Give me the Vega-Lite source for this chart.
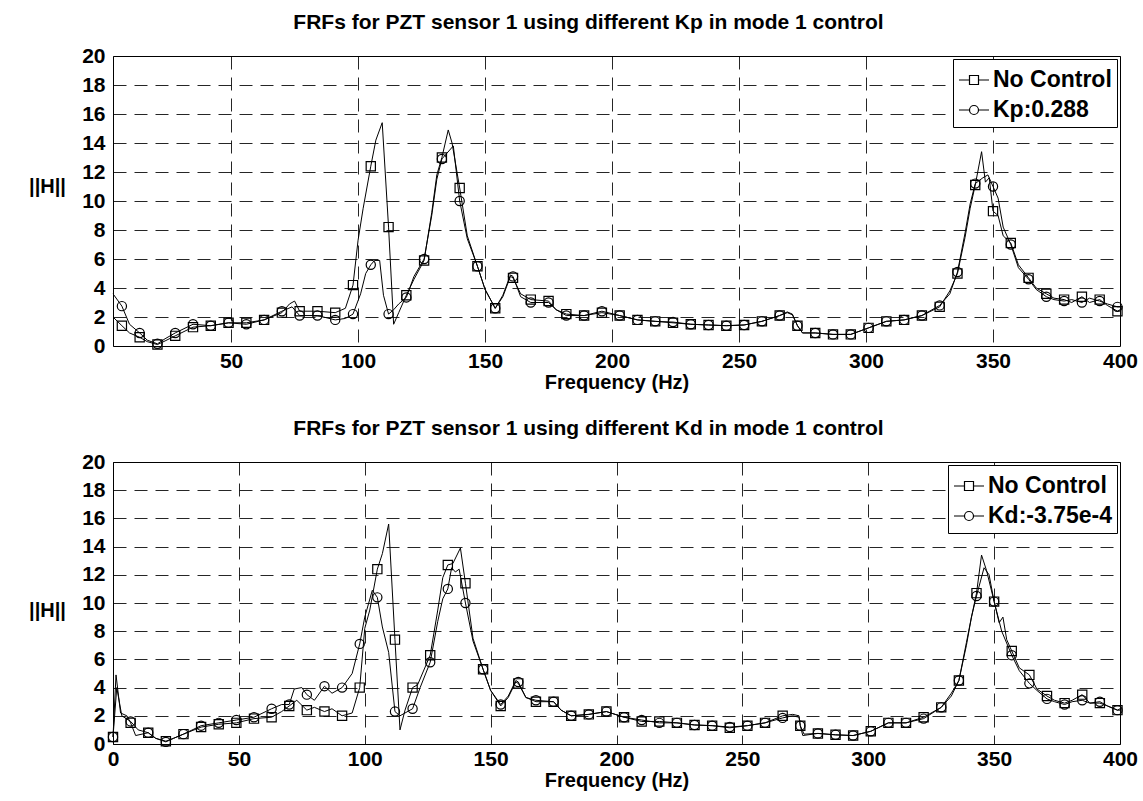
{
"$schema": "https://vega.github.io/schema/vega-lite/v6.json",
"background": "white",
"padding": {"left": 28, "top": 11, "right": 10, "bottom": 0},
"spacing": 24,
"config": {
 "font": "Liberation Sans",
 "view": {"stroke": "black", "strokeWidth": 1},
 "axis": {"labelFont": "Liberation Sans", "labelFontWeight": "bold", "labelFontSize": 21, "labelColor": "black",
  "titleFont": "Liberation Sans", "titleFontSize": 20, "titleFontWeight": "bold", "titleColor": "black",
  "domain": false, "ticks": false, "grid": true, "gridColor": "black", "gridDash": [13, 8], "gridWidth": 1, "gridOpacity": 0.85},
 "axisX": {"labelFlush": false},
 "title": {"font": "Liberation Sans", "fontSize": 21, "fontWeight": "bold", "color": "black", "anchor": "middle", "offset": 12, "dx": -28},
 "legend": {"title": null, "orient": "top-right", "offset": 3, "strokeColor": "black", "fillColor": "white", "padding": 5,
  "labelFont": "Liberation Sans", "labelFontSize": 23, "labelFontWeight": "bold", "labelColor": "black",
  "symbolSize": 900, "symbolStrokeColor": "black", "symbolStrokeWidth": 1.2, "labelOffset": 3, "rowPadding": 2}
},
"datasets": {
"top": [
{"f":3.5,"h":2.0,"s":"No Control","m":0},{"f":7,"h":1.4,"s":"No Control","m":1},{"f":10,"h":0.9,"s":"No Control","m":0},{"f":14,"h":0.6,"s":"No Control","m":1},{"f":17,"h":0.3,"s":"No Control","m":0},{"f":21,"h":0.1,"s":"No Control","m":1},{"f":24,"h":0.35,"s":"No Control","m":0},{"f":28,"h":0.7,"s":"No Control","m":1},{"f":35,"h":1.3,"s":"No Control","m":1},{"f":42,"h":1.4,"s":"No Control","m":1},{"f":49,"h":1.6,"s":"No Control","m":1},{"f":56,"h":1.6,"s":"No Control","m":1},{"f":63,"h":1.8,"s":"No Control","m":1},{"f":70,"h":2.3,"s":"No Control","m":1},{"f":73,"h":2.9,"s":"No Control","m":0},{"f":75,"h":3.1,"s":"No Control","m":0},{"f":77,"h":2.4,"s":"No Control","m":1},{"f":84,"h":2.4,"s":"No Control","m":1},{"f":91,"h":2.3,"s":"No Control","m":1},{"f":95,"h":2.6,"s":"No Control","m":0},{"f":98,"h":4.2,"s":"No Control","m":1},{"f":100,"h":7.3,"s":"No Control","m":0},{"f":102,"h":9.5,"s":"No Control","m":0},{"f":105,"h":12.4,"s":"No Control","m":1},{"f":107,"h":14.2,"s":"No Control","m":0},{"f":109.5,"h":15.4,"s":"No Control","m":0},{"f":112,"h":8.2,"s":"No Control","m":1},{"f":114,"h":1.5,"s":"No Control","m":0},{"f":116,"h":2.3,"s":"No Control","m":0},{"f":119,"h":3.5,"s":"No Control","m":1},{"f":122,"h":4.6,"s":"No Control","m":0},{"f":126,"h":5.9,"s":"No Control","m":1},{"f":129,"h":9.2,"s":"No Control","m":0},{"f":131,"h":11.8,"s":"No Control","m":0},{"f":133,"h":13.0,"s":"No Control","m":1},{"f":135.5,"h":14.9,"s":"No Control","m":0},{"f":137,"h":14.0,"s":"No Control","m":0},{"f":140,"h":10.9,"s":"No Control","m":1},{"f":143,"h":7.6,"s":"No Control","m":0},{"f":147,"h":5.5,"s":"No Control","m":1},{"f":150,"h":3.9,"s":"No Control","m":0},{"f":154,"h":2.6,"s":"No Control","m":1},{"f":157,"h":3.4,"s":"No Control","m":0},{"f":160,"h":4.8,"s":"No Control","m":0},{"f":161,"h":4.7,"s":"No Control","m":1},{"f":164,"h":3.6,"s":"No Control","m":0},{"f":168,"h":3.2,"s":"No Control","m":1},{"f":175,"h":3.1,"s":"No Control","m":1},{"f":178,"h":2.5,"s":"No Control","m":0},{"f":182,"h":2.2,"s":"No Control","m":1},{"f":189,"h":2.1,"s":"No Control","m":1},{"f":196,"h":2.3,"s":"No Control","m":1},{"f":203,"h":2.1,"s":"No Control","m":1},{"f":210,"h":1.8,"s":"No Control","m":1},{"f":217,"h":1.7,"s":"No Control","m":1},{"f":224,"h":1.6,"s":"No Control","m":1},{"f":231,"h":1.5,"s":"No Control","m":1},{"f":238,"h":1.45,"s":"No Control","m":1},{"f":245,"h":1.4,"s":"No Control","m":1},{"f":252,"h":1.45,"s":"No Control","m":1},{"f":259,"h":1.7,"s":"No Control","m":1},{"f":266,"h":2.1,"s":"No Control","m":1},{"f":269,"h":2.35,"s":"No Control","m":0},{"f":271,"h":2.2,"s":"No Control","m":0},{"f":273,"h":1.4,"s":"No Control","m":1},{"f":275,"h":0.9,"s":"No Control","m":0},{"f":280,"h":0.9,"s":"No Control","m":1},{"f":287,"h":0.8,"s":"No Control","m":1},{"f":294,"h":0.8,"s":"No Control","m":1},{"f":301,"h":1.25,"s":"No Control","m":1},{"f":308,"h":1.7,"s":"No Control","m":1},{"f":315,"h":1.8,"s":"No Control","m":1},{"f":322,"h":2.1,"s":"No Control","m":1},{"f":329,"h":2.7,"s":"No Control","m":1},{"f":333,"h":3.8,"s":"No Control","m":0},{"f":336,"h":5.0,"s":"No Control","m":1},{"f":339,"h":7.5,"s":"No Control","m":0},{"f":341,"h":9.5,"s":"No Control","m":0},{"f":343,"h":11.1,"s":"No Control","m":1},{"f":345.5,"h":13.4,"s":"No Control","m":0},{"f":347,"h":11.3,"s":"No Control","m":0},{"f":348.5,"h":11.6,"s":"No Control","m":0},{"f":350,"h":9.3,"s":"No Control","m":1},{"f":352,"h":9.0,"s":"No Control","m":0},{"f":354,"h":7.6,"s":"No Control","m":0},{"f":357,"h":7.1,"s":"No Control","m":1},{"f":360,"h":5.6,"s":"No Control","m":0},{"f":364,"h":4.7,"s":"No Control","m":1},{"f":367,"h":4.0,"s":"No Control","m":0},{"f":371,"h":3.6,"s":"No Control","m":1},{"f":374,"h":3.3,"s":"No Control","m":0},{"f":378,"h":3.2,"s":"No Control","m":1},{"f":381,"h":3.0,"s":"No Control","m":0},{"f":385,"h":3.4,"s":"No Control","m":1},{"f":388,"h":3.0,"s":"No Control","m":0},{"f":392,"h":3.2,"s":"No Control","m":1},{"f":395,"h":2.8,"s":"No Control","m":0},{"f":399,"h":2.4,"s":"No Control","m":1},{"f":400,"h":2.5,"s":"No Control","m":0},
{"f":3.5,"h":3.6,"s":"Kp:0.288","m":0},{"f":7,"h":2.75,"s":"Kp:0.288","m":1},{"f":10,"h":1.5,"s":"Kp:0.288","m":0},{"f":14,"h":0.9,"s":"Kp:0.288","m":1},{"f":17,"h":0.4,"s":"Kp:0.288","m":0},{"f":21,"h":0.15,"s":"Kp:0.288","m":1},{"f":24,"h":0.5,"s":"Kp:0.288","m":0},{"f":28,"h":0.9,"s":"Kp:0.288","m":1},{"f":35,"h":1.5,"s":"Kp:0.288","m":1},{"f":42,"h":1.4,"s":"Kp:0.288","m":1},{"f":49,"h":1.6,"s":"Kp:0.288","m":1},{"f":56,"h":1.5,"s":"Kp:0.288","m":1},{"f":63,"h":1.8,"s":"Kp:0.288","m":1},{"f":70,"h":2.4,"s":"Kp:0.288","m":1},{"f":74,"h":2.7,"s":"Kp:0.288","m":0},{"f":77,"h":2.1,"s":"Kp:0.288","m":1},{"f":84,"h":2.1,"s":"Kp:0.288","m":1},{"f":91,"h":1.8,"s":"Kp:0.288","m":1},{"f":95,"h":1.9,"s":"Kp:0.288","m":0},{"f":98,"h":2.2,"s":"Kp:0.288","m":1},{"f":101,"h":3.6,"s":"Kp:0.288","m":0},{"f":103,"h":5.0,"s":"Kp:0.288","m":0},{"f":105,"h":5.6,"s":"Kp:0.288","m":1},{"f":106.5,"h":5.9,"s":"Kp:0.288","m":0},{"f":108.5,"h":5.9,"s":"Kp:0.288","m":0},{"f":110,"h":3.5,"s":"Kp:0.288","m":0},{"f":112,"h":2.2,"s":"Kp:0.288","m":1},{"f":114,"h":2.5,"s":"Kp:0.288","m":0},{"f":116,"h":2.9,"s":"Kp:0.288","m":0},{"f":119,"h":3.35,"s":"Kp:0.288","m":1},{"f":122,"h":4.8,"s":"Kp:0.288","m":0},{"f":126,"h":6.0,"s":"Kp:0.288","m":1},{"f":129,"h":9.0,"s":"Kp:0.288","m":0},{"f":131,"h":11.5,"s":"Kp:0.288","m":0},{"f":133,"h":12.9,"s":"Kp:0.288","m":1},{"f":135,"h":13.3,"s":"Kp:0.288","m":0},{"f":137.5,"h":13.8,"s":"Kp:0.288","m":0},{"f":140,"h":10.0,"s":"Kp:0.288","m":1},{"f":143,"h":7.4,"s":"Kp:0.288","m":0},{"f":147,"h":5.5,"s":"Kp:0.288","m":1},{"f":150,"h":3.9,"s":"Kp:0.288","m":0},{"f":154,"h":2.6,"s":"Kp:0.288","m":1},{"f":157,"h":3.5,"s":"Kp:0.288","m":0},{"f":160,"h":4.9,"s":"Kp:0.288","m":0},{"f":161,"h":4.8,"s":"Kp:0.288","m":1},{"f":164,"h":3.4,"s":"Kp:0.288","m":0},{"f":168,"h":3.0,"s":"Kp:0.288","m":1},{"f":175,"h":3.0,"s":"Kp:0.288","m":1},{"f":178,"h":2.5,"s":"Kp:0.288","m":0},{"f":182,"h":2.1,"s":"Kp:0.288","m":1},{"f":189,"h":2.1,"s":"Kp:0.288","m":1},{"f":196,"h":2.4,"s":"Kp:0.288","m":1},{"f":203,"h":2.1,"s":"Kp:0.288","m":1},{"f":210,"h":1.8,"s":"Kp:0.288","m":1},{"f":217,"h":1.7,"s":"Kp:0.288","m":1},{"f":224,"h":1.65,"s":"Kp:0.288","m":1},{"f":231,"h":1.5,"s":"Kp:0.288","m":1},{"f":238,"h":1.45,"s":"Kp:0.288","m":1},{"f":245,"h":1.4,"s":"Kp:0.288","m":1},{"f":252,"h":1.45,"s":"Kp:0.288","m":1},{"f":259,"h":1.7,"s":"Kp:0.288","m":1},{"f":266,"h":2.1,"s":"Kp:0.288","m":1},{"f":269,"h":2.3,"s":"Kp:0.288","m":0},{"f":271,"h":2.15,"s":"Kp:0.288","m":0},{"f":273,"h":1.4,"s":"Kp:0.288","m":1},{"f":275,"h":0.9,"s":"Kp:0.288","m":0},{"f":280,"h":0.9,"s":"Kp:0.288","m":1},{"f":287,"h":0.8,"s":"Kp:0.288","m":1},{"f":294,"h":0.8,"s":"Kp:0.288","m":1},{"f":301,"h":1.25,"s":"Kp:0.288","m":1},{"f":308,"h":1.7,"s":"Kp:0.288","m":1},{"f":315,"h":1.8,"s":"Kp:0.288","m":1},{"f":322,"h":2.1,"s":"Kp:0.288","m":1},{"f":329,"h":2.8,"s":"Kp:0.288","m":1},{"f":333,"h":3.6,"s":"Kp:0.288","m":0},{"f":336,"h":5.1,"s":"Kp:0.288","m":1},{"f":339,"h":7.8,"s":"Kp:0.288","m":0},{"f":341,"h":9.8,"s":"Kp:0.288","m":0},{"f":343,"h":11.2,"s":"Kp:0.288","m":1},{"f":346,"h":11.6,"s":"Kp:0.288","m":0},{"f":348,"h":11.8,"s":"Kp:0.288","m":0},{"f":350,"h":11.0,"s":"Kp:0.288","m":1},{"f":352,"h":10.2,"s":"Kp:0.288","m":0},{"f":354,"h":8.2,"s":"Kp:0.288","m":0},{"f":357,"h":7.0,"s":"Kp:0.288","m":1},{"f":360,"h":5.4,"s":"Kp:0.288","m":0},{"f":364,"h":4.6,"s":"Kp:0.288","m":1},{"f":367,"h":3.9,"s":"Kp:0.288","m":0},{"f":371,"h":3.4,"s":"Kp:0.288","m":1},{"f":374,"h":3.2,"s":"Kp:0.288","m":0},{"f":378,"h":3.1,"s":"Kp:0.288","m":1},{"f":381,"h":3.2,"s":"Kp:0.288","m":0},{"f":385,"h":3.0,"s":"Kp:0.288","m":1},{"f":388,"h":3.3,"s":"Kp:0.288","m":0},{"f":392,"h":3.1,"s":"Kp:0.288","m":1},{"f":395,"h":2.9,"s":"Kp:0.288","m":0},{"f":399,"h":2.7,"s":"Kp:0.288","m":1},{"f":400,"h":2.7,"s":"Kp:0.288","m":0}
],
"bot": [
{"f":0,"h":0.5,"s":"No Control","m":1},{"f":1.2,"h":4.9,"s":"No Control","m":0},{"f":3,"h":2.2,"s":"No Control","m":0},{"f":5.5,"h":2.0,"s":"No Control","m":0},{"f":7,"h":1.5,"s":"No Control","m":1},{"f":9,"h":0.6,"s":"No Control","m":0},{"f":14,"h":0.8,"s":"No Control","m":1},{"f":17,"h":0.4,"s":"No Control","m":0},{"f":21,"h":0.2,"s":"No Control","m":1},{"f":24,"h":0.4,"s":"No Control","m":0},{"f":28,"h":0.7,"s":"No Control","m":1},{"f":35,"h":1.2,"s":"No Control","m":1},{"f":42,"h":1.4,"s":"No Control","m":1},{"f":49,"h":1.5,"s":"No Control","m":1},{"f":56,"h":1.8,"s":"No Control","m":1},{"f":63,"h":1.9,"s":"No Control","m":1},{"f":67,"h":2.3,"s":"No Control","m":0},{"f":70,"h":2.7,"s":"No Control","m":1},{"f":73,"h":3.1,"s":"No Control","m":0},{"f":77,"h":2.4,"s":"No Control","m":1},{"f":80,"h":2.6,"s":"No Control","m":0},{"f":84,"h":2.3,"s":"No Control","m":1},{"f":87,"h":2.5,"s":"No Control","m":0},{"f":91,"h":2.0,"s":"No Control","m":1},{"f":95,"h":2.2,"s":"No Control","m":0},{"f":98,"h":4.0,"s":"No Control","m":1},{"f":100,"h":8.2,"s":"No Control","m":0},{"f":102,"h":9.5,"s":"No Control","m":0},{"f":105,"h":12.4,"s":"No Control","m":1},{"f":107,"h":13.5,"s":"No Control","m":0},{"f":109.5,"h":15.6,"s":"No Control","m":0},{"f":112,"h":7.4,"s":"No Control","m":1},{"f":114,"h":1.0,"s":"No Control","m":0},{"f":116,"h":2.4,"s":"No Control","m":0},{"f":119,"h":4.0,"s":"No Control","m":1},{"f":121,"h":4.2,"s":"No Control","m":0},{"f":126,"h":6.3,"s":"No Control","m":1},{"f":129,"h":9.5,"s":"No Control","m":0},{"f":131,"h":11.8,"s":"No Control","m":0},{"f":133,"h":12.7,"s":"No Control","m":1},{"f":135,"h":12.8,"s":"No Control","m":0},{"f":138,"h":13.9,"s":"No Control","m":0},{"f":140,"h":11.4,"s":"No Control","m":1},{"f":143,"h":7.5,"s":"No Control","m":0},{"f":147,"h":5.3,"s":"No Control","m":1},{"f":150,"h":3.8,"s":"No Control","m":0},{"f":154,"h":2.7,"s":"No Control","m":1},{"f":157,"h":3.3,"s":"No Control","m":0},{"f":160,"h":4.4,"s":"No Control","m":0},{"f":161,"h":4.3,"s":"No Control","m":1},{"f":164,"h":3.3,"s":"No Control","m":0},{"f":168,"h":3.0,"s":"No Control","m":1},{"f":175,"h":3.0,"s":"No Control","m":1},{"f":178,"h":2.4,"s":"No Control","m":0},{"f":182,"h":2.0,"s":"No Control","m":1},{"f":189,"h":2.1,"s":"No Control","m":1},{"f":196,"h":2.3,"s":"No Control","m":1},{"f":203,"h":1.9,"s":"No Control","m":1},{"f":210,"h":1.6,"s":"No Control","m":1},{"f":217,"h":1.6,"s":"No Control","m":1},{"f":224,"h":1.5,"s":"No Control","m":1},{"f":231,"h":1.35,"s":"No Control","m":1},{"f":238,"h":1.3,"s":"No Control","m":1},{"f":245,"h":1.15,"s":"No Control","m":1},{"f":252,"h":1.3,"s":"No Control","m":1},{"f":259,"h":1.5,"s":"No Control","m":1},{"f":266,"h":2.0,"s":"No Control","m":1},{"f":270,"h":2.1,"s":"No Control","m":0},{"f":272.5,"h":2.0,"s":"No Control","m":0},{"f":273,"h":1.3,"s":"No Control","m":1},{"f":274,"h":0.6,"s":"No Control","m":0},{"f":280,"h":0.75,"s":"No Control","m":1},{"f":287,"h":0.65,"s":"No Control","m":1},{"f":294,"h":0.6,"s":"No Control","m":1},{"f":301,"h":0.9,"s":"No Control","m":1},{"f":308,"h":1.5,"s":"No Control","m":1},{"f":315,"h":1.5,"s":"No Control","m":1},{"f":322,"h":1.9,"s":"No Control","m":1},{"f":329,"h":2.6,"s":"No Control","m":1},{"f":333,"h":3.6,"s":"No Control","m":0},{"f":336,"h":4.5,"s":"No Control","m":1},{"f":339,"h":7.0,"s":"No Control","m":0},{"f":341,"h":9.0,"s":"No Control","m":0},{"f":343,"h":10.7,"s":"No Control","m":1},{"f":345,"h":13.4,"s":"No Control","m":0},{"f":347,"h":12.3,"s":"No Control","m":0},{"f":350,"h":10.1,"s":"No Control","m":1},{"f":352,"h":8.6,"s":"No Control","m":0},{"f":353.5,"h":9.0,"s":"No Control","m":0},{"f":355,"h":7.4,"s":"No Control","m":0},{"f":357,"h":6.6,"s":"No Control","m":1},{"f":360,"h":5.4,"s":"No Control","m":0},{"f":364,"h":4.9,"s":"No Control","m":1},{"f":367,"h":3.9,"s":"No Control","m":0},{"f":371,"h":3.4,"s":"No Control","m":1},{"f":374,"h":3.1,"s":"No Control","m":0},{"f":378,"h":2.9,"s":"No Control","m":1},{"f":381,"h":3.1,"s":"No Control","m":0},{"f":385,"h":3.5,"s":"No Control","m":1},{"f":388,"h":2.9,"s":"No Control","m":0},{"f":392,"h":2.9,"s":"No Control","m":1},{"f":395,"h":2.7,"s":"No Control","m":0},{"f":399,"h":2.4,"s":"No Control","m":1},{"f":400,"h":2.5,"s":"No Control","m":0},
{"f":0,"h":0.5,"s":"Kd:-3.75e-4","m":1},{"f":1.5,"h":4.0,"s":"Kd:-3.75e-4","m":0},{"f":3.5,"h":2.0,"s":"Kd:-3.75e-4","m":0},{"f":7,"h":1.6,"s":"Kd:-3.75e-4","m":1},{"f":10,"h":1.0,"s":"Kd:-3.75e-4","m":0},{"f":14,"h":0.8,"s":"Kd:-3.75e-4","m":1},{"f":17,"h":0.4,"s":"Kd:-3.75e-4","m":0},{"f":21,"h":0.15,"s":"Kd:-3.75e-4","m":1},{"f":24,"h":0.4,"s":"Kd:-3.75e-4","m":0},{"f":28,"h":0.7,"s":"Kd:-3.75e-4","m":1},{"f":35,"h":1.3,"s":"Kd:-3.75e-4","m":1},{"f":42,"h":1.5,"s":"Kd:-3.75e-4","m":1},{"f":49,"h":1.7,"s":"Kd:-3.75e-4","m":1},{"f":56,"h":1.9,"s":"Kd:-3.75e-4","m":1},{"f":63,"h":2.5,"s":"Kd:-3.75e-4","m":1},{"f":67,"h":2.8,"s":"Kd:-3.75e-4","m":0},{"f":70,"h":2.8,"s":"Kd:-3.75e-4","m":1},{"f":72,"h":3.9,"s":"Kd:-3.75e-4","m":0},{"f":75,"h":4.0,"s":"Kd:-3.75e-4","m":0},{"f":77,"h":3.5,"s":"Kd:-3.75e-4","m":1},{"f":80,"h":3.1,"s":"Kd:-3.75e-4","m":0},{"f":84,"h":4.1,"s":"Kd:-3.75e-4","m":1},{"f":87,"h":3.6,"s":"Kd:-3.75e-4","m":0},{"f":91,"h":4.0,"s":"Kd:-3.75e-4","m":1},{"f":95,"h":5.0,"s":"Kd:-3.75e-4","m":0},{"f":98,"h":7.1,"s":"Kd:-3.75e-4","m":1},{"f":100,"h":9.0,"s":"Kd:-3.75e-4","m":0},{"f":103,"h":10.9,"s":"Kd:-3.75e-4","m":0},{"f":105,"h":10.4,"s":"Kd:-3.75e-4","m":1},{"f":107,"h":8.3,"s":"Kd:-3.75e-4","m":0},{"f":109.5,"h":6.5,"s":"Kd:-3.75e-4","m":0},{"f":112,"h":2.3,"s":"Kd:-3.75e-4","m":1},{"f":114,"h":2.0,"s":"Kd:-3.75e-4","m":0},{"f":116,"h":2.2,"s":"Kd:-3.75e-4","m":0},{"f":119,"h":2.5,"s":"Kd:-3.75e-4","m":1},{"f":122,"h":4.0,"s":"Kd:-3.75e-4","m":0},{"f":126,"h":5.8,"s":"Kd:-3.75e-4","m":1},{"f":129,"h":8.7,"s":"Kd:-3.75e-4","m":0},{"f":131,"h":10.3,"s":"Kd:-3.75e-4","m":0},{"f":133,"h":11.0,"s":"Kd:-3.75e-4","m":1},{"f":134.5,"h":12.5,"s":"Kd:-3.75e-4","m":0},{"f":136,"h":12.2,"s":"Kd:-3.75e-4","m":0},{"f":137.5,"h":12.4,"s":"Kd:-3.75e-4","m":0},{"f":140,"h":10.0,"s":"Kd:-3.75e-4","m":1},{"f":143,"h":7.3,"s":"Kd:-3.75e-4","m":0},{"f":147,"h":5.3,"s":"Kd:-3.75e-4","m":1},{"f":150,"h":3.8,"s":"Kd:-3.75e-4","m":0},{"f":154,"h":2.8,"s":"Kd:-3.75e-4","m":1},{"f":157,"h":3.4,"s":"Kd:-3.75e-4","m":0},{"f":160,"h":4.5,"s":"Kd:-3.75e-4","m":0},{"f":161,"h":4.4,"s":"Kd:-3.75e-4","m":1},{"f":164,"h":3.3,"s":"Kd:-3.75e-4","m":0},{"f":168,"h":3.1,"s":"Kd:-3.75e-4","m":1},{"f":175,"h":3.0,"s":"Kd:-3.75e-4","m":1},{"f":178,"h":2.4,"s":"Kd:-3.75e-4","m":0},{"f":182,"h":2.0,"s":"Kd:-3.75e-4","m":1},{"f":189,"h":2.1,"s":"Kd:-3.75e-4","m":1},{"f":196,"h":2.3,"s":"Kd:-3.75e-4","m":1},{"f":203,"h":1.9,"s":"Kd:-3.75e-4","m":1},{"f":210,"h":1.7,"s":"Kd:-3.75e-4","m":1},{"f":217,"h":1.5,"s":"Kd:-3.75e-4","m":1},{"f":224,"h":1.5,"s":"Kd:-3.75e-4","m":1},{"f":231,"h":1.35,"s":"Kd:-3.75e-4","m":1},{"f":238,"h":1.3,"s":"Kd:-3.75e-4","m":1},{"f":245,"h":1.2,"s":"Kd:-3.75e-4","m":1},{"f":252,"h":1.3,"s":"Kd:-3.75e-4","m":1},{"f":259,"h":1.5,"s":"Kd:-3.75e-4","m":1},{"f":266,"h":1.85,"s":"Kd:-3.75e-4","m":1},{"f":270,"h":2.0,"s":"Kd:-3.75e-4","m":0},{"f":272.5,"h":1.9,"s":"Kd:-3.75e-4","m":0},{"f":273,"h":1.3,"s":"Kd:-3.75e-4","m":1},{"f":274.5,"h":0.7,"s":"Kd:-3.75e-4","m":0},{"f":280,"h":0.75,"s":"Kd:-3.75e-4","m":1},{"f":287,"h":0.65,"s":"Kd:-3.75e-4","m":1},{"f":294,"h":0.6,"s":"Kd:-3.75e-4","m":1},{"f":301,"h":0.9,"s":"Kd:-3.75e-4","m":1},{"f":308,"h":1.5,"s":"Kd:-3.75e-4","m":1},{"f":315,"h":1.5,"s":"Kd:-3.75e-4","m":1},{"f":322,"h":1.8,"s":"Kd:-3.75e-4","m":1},{"f":329,"h":2.6,"s":"Kd:-3.75e-4","m":1},{"f":333,"h":3.4,"s":"Kd:-3.75e-4","m":0},{"f":336,"h":4.5,"s":"Kd:-3.75e-4","m":1},{"f":339,"h":7.2,"s":"Kd:-3.75e-4","m":0},{"f":341,"h":9.0,"s":"Kd:-3.75e-4","m":0},{"f":343,"h":10.5,"s":"Kd:-3.75e-4","m":1},{"f":346,"h":12.5,"s":"Kd:-3.75e-4","m":0},{"f":348,"h":12.0,"s":"Kd:-3.75e-4","m":0},{"f":350,"h":10.1,"s":"Kd:-3.75e-4","m":1},{"f":353,"h":8.0,"s":"Kd:-3.75e-4","m":0},{"f":357,"h":6.3,"s":"Kd:-3.75e-4","m":1},{"f":360,"h":5.2,"s":"Kd:-3.75e-4","m":0},{"f":364,"h":4.3,"s":"Kd:-3.75e-4","m":1},{"f":367,"h":3.8,"s":"Kd:-3.75e-4","m":0},{"f":371,"h":3.2,"s":"Kd:-3.75e-4","m":1},{"f":374,"h":3.0,"s":"Kd:-3.75e-4","m":0},{"f":378,"h":2.8,"s":"Kd:-3.75e-4","m":1},{"f":381,"h":3.0,"s":"Kd:-3.75e-4","m":0},{"f":385,"h":3.1,"s":"Kd:-3.75e-4","m":1},{"f":388,"h":2.9,"s":"Kd:-3.75e-4","m":0},{"f":392,"h":3.0,"s":"Kd:-3.75e-4","m":1},{"f":395,"h":2.7,"s":"Kd:-3.75e-4","m":0},{"f":399,"h":2.4,"s":"Kd:-3.75e-4","m":1},{"f":400,"h":2.4,"s":"Kd:-3.75e-4","m":0}
]
},
"vconcat": [
{
 "title": {"text": "FRFs for PZT sensor 1 using different Kp in mode 1 control"},
 "width": 1007, "height": 290,
 "data": {"name": "top"},
 "encoding": {
  "x": {"field": "f", "type": "quantitative", "scale": {"domain": [3.5, 400], "nice": false, "zero": false},
   "axis": {"values": [50,100,150,200,250,300,350,400], "title": "Frequency (Hz)", "labelPadding": 4, "titlePadding": 1}},
  "y": {"field": "h", "type": "quantitative", "scale": {"domain": [0, 20], "nice": false},
   "axis": {"values": [0,2,4,6,8,10,12,14,16,18,20], "title": "||H||", "titleAngle": 0, "titleX": -66, "titleY": 130, "titleAlign": "center", "titleBaseline": "middle", "labelPadding": 8}}
 },
 "layer": [
  {"mark": {"type": "line", "color": "black", "strokeWidth": 1}, "encoding": {"detail": {"field": "s"}, "order": {"field": "f", "type": "quantitative"}}},
  {"transform": [{"filter": "datum.m == 1"}],
   "mark": {"type": "point", "filled": false, "stroke": "black", "strokeWidth": 1.2, "size": 85, "opacity": 1},
   "encoding": {"shape": {"field": "s", "type": "nominal", "scale": {"domain": ["No Control", "Kp:0.288"], "range": ["square", "circle"]}, "legend": null}}},
  {"transform": [{"filter": "datum.m == 2"}],
   "mark": {"type": "point", "filled": false, "stroke": "black", "strokeWidth": 1.2, "opacity": 1},
   "encoding": {"shape": {"field": "s", "type": "nominal",
     "scale": {"domain": ["No Control", "Kp:0.288"], "range": ["M-1,0H-0.3M0.3,0H1M-0.3,-0.3H0.3V0.3H-0.3Z", "M-1,0H-0.3M0.3,0H1M-0.3,0A0.3,0.3,0,1,1,0.3,0A0.3,0.3,0,1,1,-0.3,0Z"]},
     "legend": {}}}}
 ],
 "resolve": {"scale": {"shape": "independent"}}
},
{
 "title": {"text": "FRFs for PZT sensor 1 using different Kd in mode 1 control"},
 "width": 1007, "height": 282,
 "data": {"name": "bot"},
 "encoding": {
  "x": {"field": "f", "type": "quantitative", "scale": {"domain": [0, 400], "nice": false, "zero": false},
   "axis": {"values": [0,50,100,150,200,250,300,350,400], "title": "Frequency (Hz)", "labelPadding": 4, "titlePadding": 1}},
  "y": {"field": "h", "type": "quantitative", "scale": {"domain": [0, 20], "nice": false},
   "axis": {"values": [0,2,4,6,8,10,12,14,16,18,20], "title": "||H||", "titleAngle": 0, "titleX": -66, "titleY": 148, "titleAlign": "center", "titleBaseline": "middle", "labelPadding": 8}}
 },
 "layer": [
  {"mark": {"type": "line", "color": "black", "strokeWidth": 1}, "encoding": {"detail": {"field": "s"}, "order": {"field": "f", "type": "quantitative"}}},
  {"transform": [{"filter": "datum.m == 1"}],
   "mark": {"type": "point", "filled": false, "stroke": "black", "strokeWidth": 1.2, "size": 85, "opacity": 1},
   "encoding": {"shape": {"field": "s", "type": "nominal", "scale": {"domain": ["No Control", "Kd:-3.75e-4"], "range": ["square", "circle"]}, "legend": null}}},
  {"transform": [{"filter": "datum.m == 2"}],
   "mark": {"type": "point", "filled": false, "stroke": "black", "strokeWidth": 1.2, "opacity": 1},
   "encoding": {"shape": {"field": "s", "type": "nominal",
     "scale": {"domain": ["No Control", "Kd:-3.75e-4"], "range": ["M-1,0H-0.3M0.3,0H1M-0.3,-0.3H0.3V0.3H-0.3Z", "M-1,0H-0.3M0.3,0H1M-0.3,0A0.3,0.3,0,1,1,0.3,0A0.3,0.3,0,1,1,-0.3,0Z"]},
     "legend": {}}}}
 ],
 "resolve": {"scale": {"shape": "independent"}}
}
],
"resolve": {"scale": {"shape": "independent"}, "legend": {"shape": "independent"}}
}
